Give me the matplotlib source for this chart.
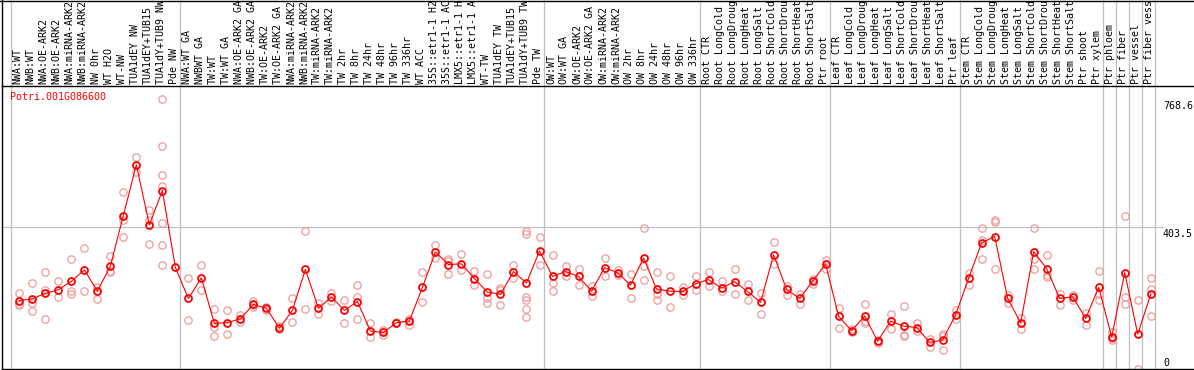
import matplotlib
matplotlib.use("Agg")
import matplotlib.pyplot as plt
import matplotlib.transforms as mtransforms
from matplotlib.lines import Line2D

gene = "Potri.001G086600"

labels = [
    "NWA:WT", "NWB:WT", "NWA:OE-ARK2", "NWB:OE-ARK2", "NWA:miRNA-ARK2",
    "NWB:miRNA-ARK2", "NW 0hr", "WT H2O", "WT-NW", "TUA1dEY NW",
    "TUA1dEY+TUB15", "TUA1dY+TUB9 NW", "Pde NW",
    "NWA:WT GA", "NWBWT GA", "TW:WT", "TW:WT GA", "NWA:OE-ARK2 GA",
    "NWB:OE-ARK2 GA", "TW:OE-ARK2", "TW:OE-ARK2 GA", "NWA:miRNA-ARK2",
    "NWB:miRNA-ARK2", "TW:miRNA-ARK2", "TW:miRNA-ARK2", "TW 2hr", "TW 8hr",
    "TW 24hr", "TW 48hr", "TW 96hr", "TW 336hr", "WT ACC", "35S::etr1-1 H2",
    "35S::etr1-1 AC", "LMX5::etr1-1 H", "LMX5::etr1-1 A", "WT-TW",
    "TUA1dEY TW", "TUA1dEY+TUB15", "TUA1dY+TUB9 TW", "Pde TW",
    "OW:WT", "OW:WT GA", "OW:OE-ARK2", "OW:OE-ARK2 GA", "OW:miRNA-ARK2",
    "OW:miRNA-ARK2", "OW 2hr", "OW 8hr", "OW 24hr", "OW 48hr", "OW 96hr",
    "OW 336hr",
    "Root CTR", "Root LongCold", "Root LongDroug", "Root LongHeat",
    "Root LongSalt", "Root ShortCold", "Root ShortDrou", "Root ShortHeat",
    "Root ShortSalt", "Ptr root",
    "Leaf CTR", "Leaf LongCold", "Leaf LongDroug", "Leaf LongHeat",
    "Leaf LongSalt", "Leaf ShortCold", "Leaf ShortDrou", "Leaf ShortHeat",
    "Leaf ShortSalt", "Ptr leaf",
    "Stem CTR", "Stem LongCold", "Stem LongDroug", "Stem LongHeat",
    "Stem LongSalt", "Stem ShortCold", "Stem ShortDrou", "Stem ShortHeat",
    "Stem ShortSalt", "Ptr shoot", "Ptr xylem",
    "Ptr phloem", "Ptr fiber", "Ptr vessel", "Ptr fiber vess",
]

group_sizes = [13, 28, 12, 10, 10, 11, 1, 1, 1, 1]

means = [
    194, 199, 215, 225, 249, 282, 221, 292, 437, 582, 410, 508, 289,
    200, 259, 129, 131, 142, 183, 172, 115, 166, 283, 172, 204, 166, 191,
    107, 103, 131, 136, 232, 333, 297, 299, 257, 218, 212, 277, 244, 336,
    263, 277, 263, 221, 288, 274, 238, 316, 227, 221, 220, 242,
    254, 230, 248, 220, 189, 325, 226, 200, 249, 299,
    149, 108, 150, 78, 135, 121, 117, 75, 81, 154,
    258, 359, 377, 200, 130, 334, 285, 200, 205, 143, 232,
    90, 274, 98, 212,
]

reps = [
    [215, 185, 181], [243, 188, 164], [275, 223, 141], [249, 203],
    [312, 221, 212], [343, 221], [233, 198], [321, 276, 278],
    [505, 423, 377], [603, 560], [454, 423, 356],
    [769, 636, 553, 522, 416, 354, 297], [],
    [259, 138], [297, 225], [171, 119, 94], [166, 98], [154, 134],
    [193, 180, 176], [176, 168], [122, 112], [200, 132], [394, 171],
    [186, 157], [217, 193], [197, 129], [238, 204, 140], [131, 89],
    [110, 96], [133, 129], [142, 125], [275, 189], [354, 316],
    [312, 271, 308], [326, 280], [278, 238], [271, 200, 186],
    [225, 230, 181], [297, 258], [394, 383, 203, 197, 171, 146], [377, 297],
    [323, 245, 221], [293, 263], [285, 238], [235, 207], [316, 263],
    [280, 268], [271, 200], [402, 292, 254], [276, 214, 195], [265, 177],
    [233, 211], [263, 223],
    [276, 235], [249, 220], [285, 214], [242, 197], [215, 157], [361, 299],
    [236, 211], [214, 183], [257, 242], [309, 285],
    [174, 115], [103, 113], [184, 137, 129], [80, 72], [155, 114],
    [178, 95, 94], [129, 107], [85, 60], [98, 92, 53], [166, 140],
    [273, 238], [402, 367, 312], [423, 419, 285], [210, 186], [143, 112],
    [402, 314, 285], [325, 268, 262], [212, 181], [210, 195], [159, 123],
    [279, 214, 197],
    [105, 86, 80], [436, 204, 184], [197, 0], [259, 226, 149],
]

scale_ticks = [768.6, 403.5, 0]

W, H = 1194, 370
RED = "#ff0000"
PINK = "#ee9a9a"
GRID = "#c0c0c0"
FONT = dict(family="DejaVu Sans Mono", size=7.2)

fig = plt.figure(figsize=(W / 100, H / 100), dpi=100)
left, right, top, bottom = 1.5, 1193.5, 86.0, 368.5
ax = fig.add_axes([left / W, 1 - bottom / H, (right - left) / W, (bottom - top) / H])

# pixel layout of the columns
x0, step = 19.3, 13.005
ax.set_xlim((left - x0) / step, (right - x0) / step)
ax.set_ylim(0, 807)
ax.set_xticks([])
ax.set_yticks([])
for side in ["left", "top", "bottom"]:
    ax.spines[side].set_linewidth(1.0)
    ax.spines[side].set_color("black")
ax.spines["right"].set_visible(False)

# group separators running through label area
above = 1 + top / (bottom - top)
pos = 0
ax.axvline(pos - 0.64, 0, above, color=GRID, lw=0.9, clip_on=False, zorder=0)
for n in group_sizes:
    pos += n
    ax.axvline(pos - 0.64, 0, above, color=GRID, lw=0.9, clip_on=False, zorder=0)

ax.axhline(scale_ticks[1], 0, (1162 - left) / (right - left), color=GRID, lw=0.9, zorder=0)

xs = list(range(len(means)))
for i, r in enumerate(reps):
    if r:
        ax.plot([i] * len(r), r, "o", ms=5.3, mfc="none", mec=PINK, mew=0.9, zorder=2)

ax.plot(xs, means, "-", color=RED, lw=0.8, zorder=3)
ax.plot(xs, means, "o", ms=5.0, mfc="none", mec=RED, mew=1.3, zorder=4)

lab_tr = mtransforms.blended_transform_factory(ax.transData, ax.transAxes)
for i, lab in enumerate(labels):
    ax.annotate(lab, (i, 1), xycoords=lab_tr, xytext=(-1.5, 2),
                textcoords="offset pixels", rotation=90, ha="center",
                va="bottom", annotation_clip=False, **FONT)

ax.text(10 / W, 1 - 100 / H, gene, transform=fig.transFigure, color=RED,
        va="baseline", ha="left", **FONT)

tick_tr = mtransforms.blended_transform_factory(ax.transAxes, ax.transData)
tx = (1163 - left) / (right - left)
for v in scale_ticks:
    if v == 0:
        ax.annotate("0", (tx, v), xycoords=tick_tr, xytext=(0, 1),
                    textcoords="offset pixels", va="bottom", ha="left", **FONT)
    else:
        ax.annotate(f"{v}", (tx, v), xycoords=tick_tr, xytext=(0, -2),
                    textcoords="offset pixels", va="top", ha="left", **FONT)

# outer frame of the label area
fig.add_artist(Line2D([left / W, left / W], [1 - top / H, 1], color="black", lw=1.0))
fig.add_artist(Line2D([0, 1], [1 - 0.5 / H, 1 - 0.5 / H], color="black", lw=1.0))

fig.savefig("out.png", dpi=100)
